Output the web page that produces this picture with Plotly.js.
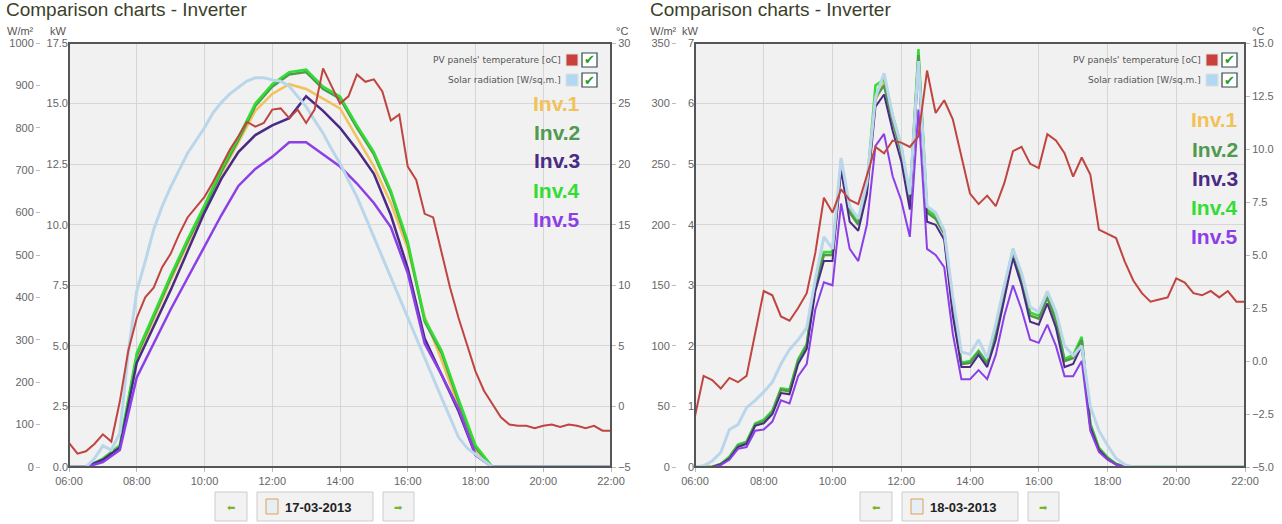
<!DOCTYPE html>
<html>
<head>
<meta charset="utf-8">
<script src="https://cdn.plot.ly/plotly-3.0.1.min.js"></script>
<style>
  body { margin: 0; background: #fff; }
  #chart { width: 1282px; height: 524px; }
</style>
</head>
<body>
<div id="chart"></div>
<script>
// time grids (hours)
const t15 = Array.from({length: 65}, (_, i) => 6 + i * 0.25);
const t30 = Array.from({length: 33}, (_, i) => 6 + i * 0.5);
const hourTicks = [6, 8, 10, 12, 14, 16, 18, 20, 22];
const hourLabels = ['06:00', '08:00', '10:00', '12:00', '14:00', '16:00', '18:00', '20:00', '22:00'];

// 17-03-2013 (left)
const leftTemp = [-3.0,-3.9,-3.7,-3.1, -2.3,-2.9,0.4,4.6, 7.3,9.0,9.8,11.5, 12.6,14.2,15.6,16.5,
  17.3,18.5,19.8,21.2, 22.3,23.5,23.1,23.4, 24.5,24.6,23.8,24.5, 23.4,24.5,27.9,26.4,
  25.0,25.6,27.4,26.8, 27.0,26.0,23.6,24.1, 19.8,18.7,15.9,15.6, 12.6,9.8,7.3,5.1,
  2.9,1.3,0.2,-0.9, -1.5,-1.6,-1.6,-1.8, -1.6,-1.5,-1.7,-1.5, -1.6,-1.8,-1.6,-2.0, -2.0];
const leftSolar = [0,0,0,20, 50,40,80,270, 415,485,560,615, 660,700,740,770,
  800,835,860,880, 895,910,918,918, 913,910,898,875, 850,818,787,750,
  716,676,637,590, 542,495,447,400, 353,305,258,210, 163,116,70,45,
  30,13,0,0, 0,0,0,0, 0,0,0,0, 0,0,0,0, 0];
const leftInv1 = [0,0,0.3,0.8, 4.5,6.1,7.7,9.2,10.6,12.1,13.4,14.7,15.4,15.8,15.6,15.2,14.8,13.6,12.4,10.9,9.0,6.2,4.4,2.5, 0.7,0, 0,0,0,0,0,0,0];
const leftInv2 = [0,0,0.3,0.8, 4.6,6.2,7.8,9.3,10.7,12.2,13.5,14.9,15.7,16.2,16.3,15.6,15.2,14.0,12.9,11.3,9.2,6.0,4.7,2.7, 0.8,0, 0,0,0,0,0,0,0];
const leftInv3 = [0,0,0.3,0.8, 4.3,5.8,7.3,8.9,10.5,11.9,13.0,13.7,14.1,14.4,15.3,14.7,14.0,13.1,12.1,10.4,8.2,5.3,3.8,2.3, 0.5,0, 0,0,0,0,0,0,0];
const leftInv4 = [0,0,0.35,0.9, 4.7,6.3,7.9,9.4,10.8,12.3,13.6,15.0,15.8,16.3,16.4,15.7,15.3,14.1,13.0,11.4,9.3,6.1,4.8,2.8, 0.9,0, 0,0,0,0,0,0,0];
const leftInv5 = [0,0,0.2,0.7, 3.7,5.1,6.5,7.8,9.1,10.4,11.6,12.3,12.8,13.4,13.4,12.9,12.4,11.7,10.9,9.9,8.0,5.1,3.8,2.4, 0.5,0, 0,0,0,0,0,0,0];

// 18-03-2013 (right)
const rightTemp = [-2.6,-0.7,-0.9,-1.3, -0.8,-1.0,-0.7,1.3, 3.3,3.1,2.1,1.9, 2.5,3.2,5.1,7.7,
  7.0,8.1,7.6,7.4, 8.8,10.1,9.8,10.4, 10.3,10.1,10.6,13.7, 11.7,12.3,11.4,9.6,
  7.9,7.4,7.8,7.3, 8.4,9.9,10.1,9.3, 9.1,10.7,10.4,9.8, 8.7,9.6,8.8,6.2,
  6.0,5.8,4.7,3.8, 3.2,2.8,2.9,3.0, 3.9,3.7,3.2,3.1, 3.3,3.0,3.3,2.8, 2.8];
const rightSolar = [0,1,5,12, 31,35,49,55, 62,70,85,97, 105,115,155,190,
  180,255,215,205, 235,305,325,290, 265,225,335,215, 210,195,140,95,
  93,105,90,118, 150,180,160,132, 128,145,128,100, 92,100,50,30,
  18,7,2,0, 0,0,0,0, 0,0,0,0, 0,0,0,0, 0];
const rightInv1 = [0,0,0,0.05, 0.15,0.35,0.4,0.7, 0.75,0.9,1.25,1.25, 1.75,2.0,3.0,3.5,
  3.5,4.95,4.2,4.0, 4.6,6.05,6.35,5.7, 5.2,4.4,6.75,4.2, 4.1,3.85,2.6,1.7,
  1.72,1.9,1.7,2.2, 2.9,3.5,3.1,2.5, 2.45,2.8,2.4,1.75, 1.8,2.1,0.7,0.3,
  0.15,0.05,0,0, 0,0,0,0, 0,0,0,0, 0,0,0,0, 0];
const rightInv2 = [0,0,0,0.05, 0.15,0.35,0.4,0.7, 0.75,0.9,1.28,1.25, 1.75,2.0,3.0,3.5,
  3.5,5.0,4.2,4.0, 4.6,6.1,6.3,5.7, 5.2,4.4,6.8,4.2, 4.1,3.85,2.6,1.7,
  1.72,1.9,1.7,2.2, 2.9,3.55,3.1,2.5, 2.45,2.8,2.4,1.75, 1.8,2.1,0.7,0.3,
  0.15,0.05,0,0, 0,0,0,0, 0,0,0,0, 0,0,0,0, 0];
const rightInv3 = [0,0,0,0.04, 0.14,0.33,0.38,0.68, 0.72,0.87,1.22,1.2, 1.7,1.95,2.9,3.4,
  3.4,4.9,4.05,3.9, 4.5,5.95,6.15,5.55, 5.05,4.25,6.65,4.05, 4.0,3.75,2.5,1.65,
  1.65,1.85,1.65,2.1, 2.8,3.45,3.0,2.4, 2.35,2.7,2.3,1.65, 1.7,2.0,0.65,0.28,
  0.13,0.04,0,0, 0,0,0,0, 0,0,0,0, 0,0,0,0, 0];
const rightInv4 = [0,0,0,0.05, 0.17,0.37,0.42,0.72, 0.78,0.93,1.3,1.28, 1.78,2.03,3.05,3.55,
  3.55,5.05,4.25,4.05, 4.65,6.3,6.4,5.8, 5.3,4.45,6.9,4.25, 4.15,3.9,2.65,1.72,
  1.75,1.92,1.72,2.22, 2.95,3.6,3.15,2.55, 2.5,2.85,2.45,1.78, 1.85,2.15,0.72,0.32,
  0.16,0.05,0,0, 0,0,0,0, 0,0,0,0, 0,0,0,0, 0];
const rightInv5 = [0,0,0,0.03, 0.12,0.3,0.33,0.6, 0.62,0.75,1.1,1.05, 1.5,1.7,2.6,3.05,
  3.0,4.35,3.6,3.4, 4.0,5.3,5.5,4.8, 4.4,3.8,5.9,3.6, 3.5,3.3,2.2,1.45,
  1.45,1.6,1.45,1.85, 2.5,3.0,2.6,2.1, 2.05,2.35,2.0,1.5, 1.5,1.75,0.6,0.25,
  0.12,0.04,0,0, 0,0,0,0, 0,0,0,0, 0,0,0,0, 0];

const invNames = ['Inv.1', 'Inv.2', 'Inv.3', 'Inv.4', 'Inv.5'];
const invColors = ['#f2c25a', '#4f9a50', '#4a2a85', '#33dd33', '#8c3fe6'];
const tempColor = '#c0443f';
const solarColor = '#b9d6ea';

const W = 1282, H = 524;
const px = x => x / W;
const py = y => 1 - y / H;

function line(x, y, xa, ya, color, width) {
  return {type: 'scatter', mode: 'lines', x: x, y: y, xaxis: xa, yaxis: ya,
    line: {color: color, width: width}, hoverinfo: 'skip', showlegend: false};
}

const traces = [
  line(t15, leftTemp, 'x', 'y3', tempColor, 2),
  line(t15, leftSolar, 'x', 'y2', solarColor, 3),
  line(t30, leftInv1, 'x', 'y', invColors[0], 2.5),
  line(t30, leftInv2, 'x', 'y', invColors[1], 2.5),
  line(t30, leftInv4, 'x', 'y', invColors[3], 2.5),
  line(t30, leftInv3, 'x', 'y', invColors[2], 2.5),
  line(t30, leftInv5, 'x', 'y', invColors[4], 2.5),
  line(t15, rightTemp, 'x2', 'y6', tempColor, 2),
  line(t15, rightSolar, 'x2', 'y5', solarColor, 3),
  line(t15, rightInv1, 'x2', 'y4', invColors[0], 2.5),
  line(t15, rightInv4, 'x2', 'y4', invColors[3], 2.5),
  line(t15, rightInv2, 'x2', 'y4', invColors[1], 2.5),
  line(t15, rightInv3, 'x2', 'y4', invColors[2], 2),
  line(t15, rightInv5, 'x2', 'y4', invColors[4], 2)
];

const tickFont = {family: 'Arial, Liberation Sans, sans-serif', size: 11, color: '#666'};
const yDomain = [py(467), py(43)];

function xAxis(x0, x1, anchor) {
  return {domain: [px(x0), px(x1)], range: [6, 22], anchor: anchor,
    tickvals: hourTicks, ticktext: hourLabels, tickfont: tickFont,
    showgrid: true, gridcolor: '#d6d6d6', zeroline: false,
    ticks: 'outside', ticklen: 4, tickcolor: '#bbb', fixedrange: true};
}
function yAxis(opts) {
  return Object.assign({domain: yDomain, tickfont: tickFont, zeroline: false,
    showgrid: false, ticks: 'outside', ticklen: 4, tickcolor: '#bbb', fixedrange: true}, opts);
}

const annotations = [];
const shapes = [];
function text(x, y, s, opts) {
  annotations.push(Object.assign({xref: 'paper', yref: 'paper', x: px(x), y: py(y), text: s,
    showarrow: false, xanchor: 'left', yanchor: 'middle',
    font: {family: 'Arial, Liberation Sans, sans-serif', size: 11, color: '#555'}}, opts));
}
function rect(x0, y0, x1, y1, fill, lineColor, lw) {
  shapes.push({type: 'rect', xref: 'paper', yref: 'paper', x0: px(x0), x1: px(x1), y0: py(y1), y1: py(y0),
    fillcolor: fill, line: {color: lineColor, width: lw}, layer: 'above'});
}

function panel(off, frameL, frameR, wLabelX, kwLabelX, cLabelX, legendEnd, invRight, invTop, date, btn) {
  text(off + 4, 10, 'Comparison charts - Inverter',
    {font: {family: 'Arial, Liberation Sans, sans-serif', size: 19, color: '#3c3f2a'}});
  text(wLabelX, 31, 'W/m²', {});
  text(kwLabelX, 31, 'kW', {});
  text(cLabelX, 31, '°C', {});
  // plot frame
  shapes.push({type: 'rect', xref: 'paper', yref: 'paper', x0: px(frameL), x1: px(frameR),
    y0: py(467), y1: py(43), line: {color: '#555', width: 2}, layer: 'above'});
  // legend rows
  const rows = [['PV panels\' temperature [oC]', '#c9403c', 60], ['Solar radiation [W/sq.m.]', '#b3d8f2', 80]];
  rows.forEach(r => {
    text(legendEnd, r[2], r[0], {xanchor: 'right', font: {family: 'DejaVu Sans, sans-serif', size: 9, color: '#555'}});
    rect(legendEnd + 3, r[2] - 6, legendEnd + 15, r[2] + 6, r[1], '#ddd', 1);
    rect(legendEnd + 19, r[2] - 7, legendEnd + 34, r[2] + 7, '#fff', '#2d4a4a', 1.2);
    text(legendEnd + 26.5, r[2], '✔', {xanchor: 'center', font: {family: 'DejaVu Sans', size: 13, color: '#2a9a2a'}});
  });
  invNames.forEach((n, i) => {
    text(invRight, invTop + i * 29, '<b>' + n + '</b>', {xanchor: 'right',
      font: {family: 'Liberation Sans Narrow, Arial Narrow, Liberation Sans, sans-serif', size: 21, color: invColors[i]}});
  });
  // buttons
  rect(btn, 492, btn + 32, 521, '#f2f2f2', '#ccc', 1);
  text(btn + 16, 507, '⬅', {xanchor: 'center', font: {size: 10, color: '#7ab531'}});
  rect(btn + 42, 492, btn + 158, 521, '#f2f2f2', '#ccc', 1);
  rect(btn + 51, 499, btn + 63, 514, '#e6eef6', '#e0a050', 1);
  text(btn + 68, 507, '<b>' + date + '</b>', {font: {family: 'Arial, Liberation Sans, sans-serif', size: 13, color: '#222'}});
  rect(btn + 168, 492, btn + 199, 521, '#f2f2f2', '#ccc', 1);
  text(btn + 183.5, 507, '➡', {xanchor: 'center', font: {size: 10, color: '#7ab531'}});
}

panel(0, 69, 611, 5, 48, 614, 563, 582, 103, '17-03-2013', 215);
panel(644, 695, 1245, 648, 680, 1250, 1203, 1240, 120, '18-03-2013', 860);

const layout = {
  width: W, height: H,
  margin: {l: 0, r: 0, t: 0, b: 0},
  paper_bgcolor: '#fff',
  plot_bgcolor: '#f1f1f1',
  showlegend: false,
  xaxis: xAxis(69, 611, 'y'),
  yaxis: yAxis({range: [0, 17.5], dtick: 2.5, tickformat: '.1f', anchor: 'x', showgrid: true, gridcolor: '#d6d6d6', ticks: ''}),
  yaxis2: yAxis({range: [0, 1000], dtick: 100, overlaying: 'y', anchor: 'free', position: px(40), side: 'left'}),
  yaxis3: yAxis({range: [-5, 30], dtick: 5, overlaying: 'y', anchor: 'x', side: 'right'}),
  xaxis2: xAxis(695, 1245, 'y4'),
  yaxis4: yAxis({range: [0, 7], dtick: 1, anchor: 'x2', showgrid: true, gridcolor: '#d6d6d6', ticks: ''}),
  yaxis5: yAxis({range: [0, 350], dtick: 50, overlaying: 'y4', anchor: 'free', position: px(676), side: 'left'}),
  yaxis6: yAxis({range: [-5, 15], dtick: 2.5, tickformat: '.1f', overlaying: 'y4', anchor: 'x2', side: 'right'}),
  annotations: annotations,
  shapes: shapes
};

Plotly.newPlot('chart', traces, layout, {displayModeBar: false, staticPlot: true});
</script>
</body>
</html>
